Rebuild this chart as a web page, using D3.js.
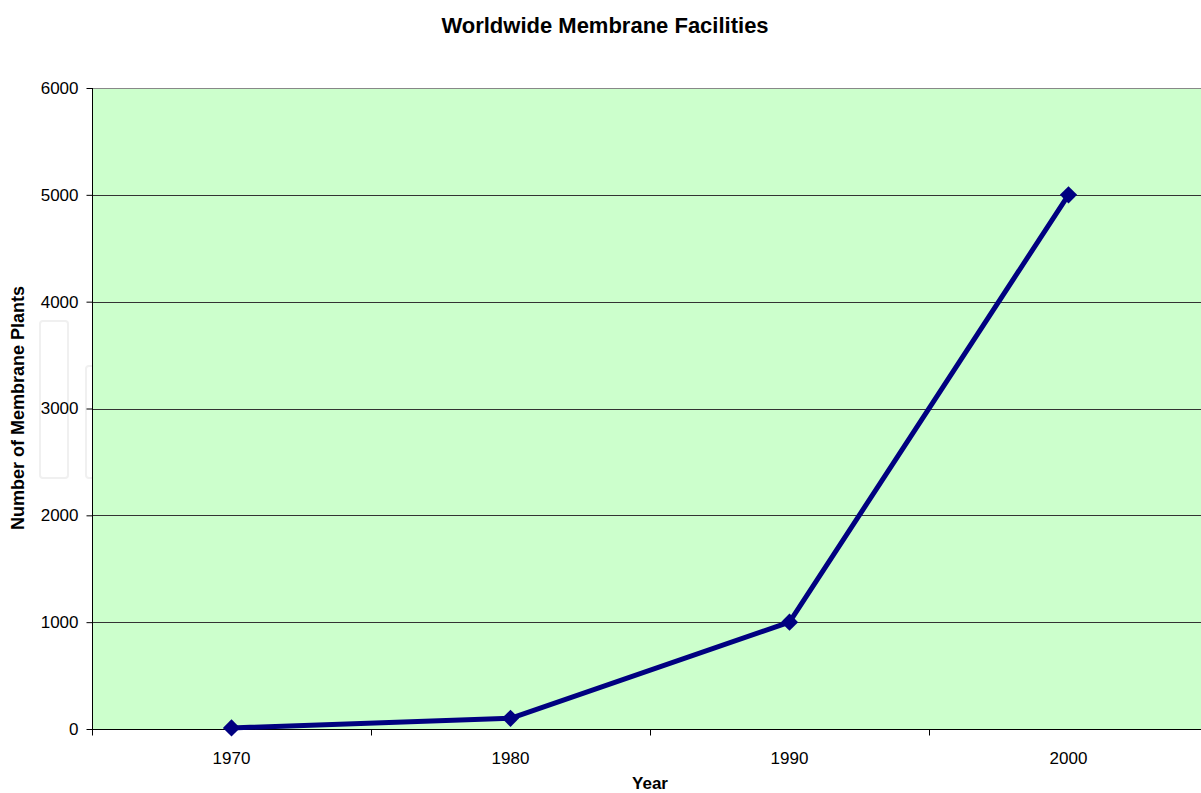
<!doctype html>
<html>
<head>
<script src="https://cdnjs.cloudflare.com/ajax/libs/d3/7.8.5/d3.min.js"></script>
<style>
  body { margin: 0; background: #fff; }
  svg { display: block; font-family: "Liberation Sans", Arial, sans-serif; }
</style>
</head>
<body>
<svg id="chart" width="1201" height="793"></svg>
<script>
// data
var years = ["1970", "1980", "1990", "2000"];
var plants = [10, 100, 1000, 5000];
var yTicks = [0, 1000, 2000, 3000, 4000, 5000, 6000];

var svg = d3.select("#chart");
// plot area edges (note: "top" is taken by window.top)
var pLeft = 92, pTop = 88, pBottom = 729, pRight = 1208;

var x = d3.scaleBand().domain(years).range([pLeft, pRight]);
var y = d3.scaleLinear().domain([0, 6000]).range([pBottom, pTop]);

// title
svg.append("text")
    .attr("x", 605).attr("y", 33)
    .attr("text-anchor", "middle")
    .attr("font-size", "22px").attr("font-weight", "bold")
    .text("Worldwide Membrane Facilities");

// faint leftover boxes near the y label
svg.append("rect").attr("x", 40).attr("y", 321).attr("width", 28).attr("height", 157)
    .attr("rx", 3).attr("fill", "none").attr("stroke", "#f0f0f0").attr("stroke-width", 2);
svg.append("rect").attr("x", 86).attr("y", 366).attr("width", 10).attr("height", 112)
    .attr("rx", 3).attr("fill", "none").attr("stroke", "#f0f0f0").attr("stroke-width", 2);

// plot area
svg.append("rect")
    .attr("x", pLeft).attr("y", pTop)
    .attr("width", pRight - pLeft).attr("height", pBottom - pTop)
    .attr("fill", "#ccffcc");

// gridlines
svg.append("g").selectAll("line")
    .data(yTicks.filter(function(d) { return d > 0; }))
    .enter().append("line")
    .attr("x1", pLeft).attr("x2", pRight)
    .attr("y1", function(d) { return Math.round(y(d)) + 0.5; })
    .attr("y2", function(d) { return Math.round(y(d)) + 0.5; })
    .attr("stroke", function(d) { return d == 6000 ? "#888" : "#333"; })
    .attr("stroke-width", 1);

// y axis
var yAxis = svg.append("g")
    .attr("transform", "translate(" + (pLeft + 0.5) + ",0)")
    .call(d3.axisLeft(y).tickValues(yTicks).tickSize(6).tickPadding(8).tickFormat(d3.format("d")));
yAxis.attr("font-size", null).attr("font-family", null);
yAxis.selectAll("text").attr("font-size", "17px").attr("fill", "#000");
yAxis.selectAll("line, path").attr("stroke", "#000");
yAxis.select(".domain").attr("d", "M0," + pTop + "V" + pBottom);

// x axis: ticks between categories, labels centred
var xAxis = svg.append("g").attr("transform", "translate(0," + (pBottom + 0.5) + ")");
xAxis.append("line").attr("x1", pLeft).attr("x2", pRight).attr("stroke", "#000");
xAxis.selectAll(".tk")
    .data(years.concat(["end"]))
    .enter().append("line")
    .attr("class", "tk")
    .attr("x1", function(d, i) { return Math.round(pLeft + i * x.bandwidth()) + 0.5; })
    .attr("x2", function(d, i) { return Math.round(pLeft + i * x.bandwidth()) + 0.5; })
    .attr("y1", 0).attr("y2", 6).attr("stroke", "#000");
xAxis.selectAll("text")
    .data(years)
    .enter().append("text")
    .attr("x", function(d) { return x(d) + x.bandwidth() / 2; })
    .attr("y", 34)
    .attr("text-anchor", "middle")
    .attr("font-size", "17px")
    .text(function(d) { return d; });

// axis titles
svg.append("text")
    .attr("x", 650).attr("y", 789)
    .attr("text-anchor", "middle")
    .attr("font-size", "17px").attr("font-weight", "bold")
    .text("Year");
svg.append("text")
    .attr("transform", "translate(24,408) rotate(-90)")
    .attr("text-anchor", "middle")
    .attr("font-size", "18px").attr("font-weight", "bold")
    .text("Number of Membrane Plants");

// series
var pts = years.map(function(d, i) { return { year: d, val: plants[i] }; });
var line = d3.line()
    .x(function(d) { return x(d.year) + x.bandwidth() / 2; })
    .y(function(d) { return y(d.val); });

svg.append("path")
    .datum(pts)
    .attr("d", line)
    .attr("fill", "none")
    .attr("stroke", "#000080")
    .attr("stroke-width", 5)
    .attr("stroke-linejoin", "round");

svg.selectAll(".mk")
    .data(pts)
    .enter().append("path")
    .attr("class", "mk")
    .attr("d", d3.symbol().type(d3.symbolDiamond2).size(190))
    .attr("transform", function(d) {
        return "translate(" + (x(d.year) + x.bandwidth() / 2) + "," + y(d.val) + ")";
    })
    .attr("fill", "#000080");
</script>
</body>
</html>
